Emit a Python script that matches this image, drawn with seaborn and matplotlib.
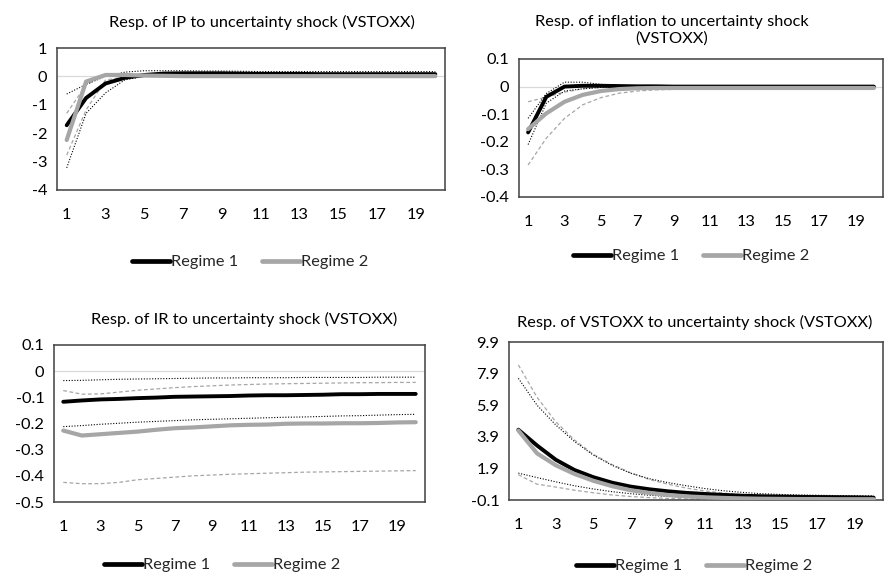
import numpy as np
import pandas as pd
import matplotlib
matplotlib.use("Agg")
import matplotlib.pyplot as plt
import seaborn as sns
from matplotlib.lines import Line2D

sns.set_theme(style="white")
plt.rcParams['font.family'] = ['Lato', 'DejaVu Sans']

horizon = list(range(1, 21))
xtick_labels = [str(v) for v in range(1, 21, 2)]

# ---- Panel 1: IP ----
ip_r1 = [-1.72, -0.76, -0.25, -0.05, 0.05, 0.10, 0.11, 0.11, 0.11, 0.10,
         0.09, 0.09, 0.09, 0.08, 0.08, 0.08, 0.08, 0.08, 0.08, 0.08]
ip_r2 = [-2.24, -0.18, 0.05, 0.05, 0.03, 0.02, 0.01, 0.01, 0.01, 0.01,
         0.01, 0.01, 0.01, 0.01, 0.01, 0.01, 0.01, 0.01, 0.01, 0.01]
ip_r1_up = [-0.62, -0.28, 0.00, 0.15, 0.20, 0.20, 0.20, 0.19, 0.19, 0.18,
            0.17, 0.17, 0.17, 0.17, 0.17, 0.17, 0.17, 0.17, 0.17, 0.17]
ip_r1_lo = [-3.22, -1.30, -0.58, -0.12, 0.00, 0.03, 0.04, 0.04, 0.04, 0.03,
            0.03, 0.03, 0.03, 0.03, 0.03, 0.03, 0.03, 0.03, 0.03, 0.03]
ip_r2_up = [-1.30, -0.30, 0.06, 0.08, 0.06, 0.05, 0.04, 0.04, 0.04, 0.04,
            0.04, 0.04, 0.04, 0.04, 0.04, 0.04, 0.04, 0.04, 0.04, 0.04]
ip_r2_lo = [-2.77, -1.18, -0.13, -0.02, 0.00, -0.01, -0.02, -0.02, -0.02, -0.02,
            -0.02, -0.02, -0.02, -0.02, -0.02, -0.02, -0.02, -0.02, -0.02, -0.02]
ip_yticks = [1, 0, -1, -2, -3, -4]

# ---- Panel 2: inflation ----
inf_r1 = [-0.166, -0.037, 0.000, 0.003, 0.003, 0.002, 0.001, 0.001, 0.000, 0.000,
          0.000, 0.000, 0.000, 0.000, 0.000, 0.000, 0.000, 0.000, 0.000, 0.000]
inf_r2 = [-0.154, -0.097, -0.055, -0.030, -0.016, -0.009, -0.006, -0.005, -0.005, -0.005,
          -0.005, -0.005, -0.005, -0.005, -0.005, -0.005, -0.005, -0.005, -0.005, -0.005]
inf_r1_up = [-0.115, -0.025, 0.016, 0.016, 0.008, 0.004, 0.003, 0.002, 0.002, 0.002,
             0.002, 0.002, 0.001, 0.001, 0.001, 0.001, 0.001, 0.001, 0.001, 0.001]
inf_r1_lo = [-0.210, -0.060, -0.016, -0.008, -0.003, -0.002, -0.001, -0.001, 0.000, 0.000,
             0.000, 0.000, 0.000, 0.000, 0.000, 0.000, 0.000, 0.000, 0.000, 0.000]
inf_r2_up = [-0.055, -0.038, -0.020, -0.008, -0.003, -0.001, 0.000, 0.000, 0.000, 0.000,
             0.000, 0.000, 0.000, 0.000, 0.000, 0.000, 0.000, 0.000, 0.000, 0.000]
inf_r2_lo = [-0.284, -0.187, -0.115, -0.066, -0.040, -0.024, -0.016, -0.012, -0.010, -0.010,
             -0.010, -0.010, -0.010, -0.010, -0.010, -0.010, -0.010, -0.010, -0.010, -0.010]
inf_yticks = [0.1, 0, -0.1, -0.2, -0.3, -0.4]
inf_ylabels = ["0.1", "0", "-0.1", "-0.2", "-0.3", "-0.4"]

# ---- Panel 3: IR ----
ir_r1 = [-0.117, -0.112, -0.108, -0.106, -0.103, -0.101, -0.098, -0.097, -0.096, -0.095,
         -0.093, -0.092, -0.092, -0.091, -0.090, -0.088, -0.088, -0.087, -0.087, -0.087]
ir_r2 = [-0.227, -0.246, -0.241, -0.236, -0.231, -0.224, -0.218, -0.215, -0.211, -0.207,
         -0.205, -0.204, -0.201, -0.200, -0.200, -0.199, -0.199, -0.198, -0.196, -0.195]
ir_r1_up = [-0.036, -0.035, -0.033, -0.031, -0.030, -0.029, -0.028, -0.027, -0.026, -0.026,
            -0.025, -0.025, -0.025, -0.024, -0.024, -0.024, -0.024, -0.023, -0.023, -0.023]
ir_r1_lo = [-0.212, -0.208, -0.203, -0.199, -0.195, -0.192, -0.189, -0.186, -0.184, -0.182,
            -0.180, -0.178, -0.176, -0.175, -0.173, -0.171, -0.170, -0.168, -0.166, -0.165]
ir_r2_up = [-0.074, -0.088, -0.087, -0.080, -0.073, -0.068, -0.063, -0.059, -0.056, -0.053,
            -0.051, -0.049, -0.048, -0.047, -0.046, -0.045, -0.044, -0.044, -0.043, -0.043]
ir_r2_lo = [-0.425, -0.430, -0.430, -0.425, -0.415, -0.410, -0.405, -0.400, -0.397, -0.394,
            -0.392, -0.390, -0.388, -0.386, -0.385, -0.384, -0.383, -0.382, -0.381, -0.380]
ir_yticks = [0.1, 0, -0.1, -0.2, -0.3, -0.4, -0.5]
ir_ylabels = ["0.1", "0", "-0.1", "-0.2", "-0.3", "-0.4", "-0.5"]

# ---- Panel 4: VSTOXX ----
vs_r1 = [4.35, 3.35, 2.45, 1.80, 1.35, 1.00, 0.75, 0.58, 0.45, 0.35,
         0.28, 0.22, 0.17, 0.14, 0.12, 0.10, 0.09, 0.08, 0.07, 0.05]
vs_r2 = [4.30, 2.85, 2.10, 1.55, 1.12, 0.78, 0.52, 0.35, 0.22, 0.13,
         0.07, 0.03, 0.00, -0.02, -0.03, -0.04, -0.04, -0.05, -0.05, -0.05]
vs_r1_up = [7.60, 5.90, 4.65, 3.60, 2.75, 2.10, 1.60, 1.25, 1.00, 0.80,
            0.62, 0.48, 0.38, 0.30, 0.25, 0.22, 0.20, 0.18, 0.17, 0.16]
vs_r1_lo = [1.60, 1.32, 1.05, 0.80, 0.60, 0.43, 0.30, 0.20, 0.12, 0.07,
            0.04, 0.02, 0.01, 0.00, 0.00, 0.00, -0.01, -0.01, -0.01, -0.01]
vs_r2_up = [8.45, 6.40, 4.85, 3.70, 2.80, 2.15, 1.62, 1.20, 0.90, 0.65,
            0.47, 0.33, 0.23, 0.16, 0.11, 0.08, 0.06, 0.05, 0.04, 0.04]
vs_r2_lo = [1.50, 0.90, 0.72, 0.52, 0.36, 0.22, 0.12, 0.05, 0.00, -0.03,
            -0.05, -0.06, -0.07, -0.07, -0.08, -0.08, -0.08, -0.08, -0.08, -0.08]
vs_yticks = [9.9, 7.9, 5.9, 3.9, 1.9, -0.1]
vs_ylabels = ["9.9", "7.9", "5.9", "3.9", "1.9", "-0.1"]

titles = ["Resp. of IP to uncertainty shock (VSTOXX)",
          "Resp. of inflation to uncertainty shock\n(VSTOXX)",
          "Resp. of IR to uncertainty shock (VSTOXX)",
          "Resp. of VSTOXX to uncertainty shock (VSTOXX)"]
series_names = ["Regime 1", "Regime 2"]

BLACK = "#000000"
GRAY = "#a6a6a6"
FS = 11.8

fig = plt.figure(figsize=(8.84, 5.78), dpi=100)

W, H = 884, 578
def ax_rect(l, r, t, b):
    return [l / W, 1 - b / H, (r - l) / W, (b - t) / H]

panels = [
    dict(rect=ax_rect(57, 445, 48, 190), data=(ip_r1, ip_r2, ip_r1_up, ip_r1_lo, ip_r2_up, ip_r2_lo),
         yticks=ip_yticks, ylabels=[str(v) for v in ip_yticks], ylim=(-4, 1),
         title_xy=(262, 22), legend_xy=(250, 262), zero=True),
    dict(rect=ax_rect(519, 883, 59, 197), data=(inf_r1, inf_r2, inf_r1_up, inf_r1_lo, inf_r2_up, inf_r2_lo),
         yticks=inf_yticks, ylabels=inf_ylabels, ylim=(-0.4, 0.1),
         title_xy=(672, 30), legend_xy=(691, 256), zero=True),
    dict(rect=ax_rect(54, 425, 345, 502), data=(ir_r1, ir_r2, ir_r1_up, ir_r1_lo, ir_r2_up, ir_r2_lo),
         yticks=ir_yticks, ylabels=ir_ylabels, ylim=(-0.5, 0.1),
         title_xy=(244, 319), legend_xy=(222, 565), zero=True),
    dict(rect=ax_rect(509, 883, 342, 500), data=(vs_r1, vs_r2, vs_r1_up, vs_r1_lo, vs_r2_up, vs_r2_lo),
         yticks=vs_yticks, ylabels=vs_ylabels, ylim=(-0.1, 9.9),
         title_xy=(695, 322), legend_xy=(694, 566), zero=False),
]

for i, p in enumerate(panels):
    ax = fig.add_axes(p["rect"])
    r1, r2, r1u, r1l, r2u, r2l = p["data"]
    if p["zero"]:
        ax.axhline(0, color="#d9d9d9", lw=0.9, zorder=1)
    sns.lineplot(x=horizon, y=r2u, ax=ax, color=GRAY, lw=0.9, linestyle=(0, (3, 2)), zorder=2)
    sns.lineplot(x=horizon, y=r2l, ax=ax, color=GRAY, lw=0.9, linestyle=(0, (3, 2)), zorder=2)
    sns.lineplot(x=horizon, y=r1u, ax=ax, color=BLACK, lw=0.8, linestyle=(0, (1, 1.5)), zorder=2)
    sns.lineplot(x=horizon, y=r1l, ax=ax, color=BLACK, lw=0.8, linestyle=(0, (1, 1.5)), zorder=2)
    sns.lineplot(x=horizon, y=r1, ax=ax, color=BLACK, lw=2.8, zorder=3,
                 solid_capstyle="round", solid_joinstyle="round")
    sns.lineplot(x=horizon, y=r2, ax=ax, color=GRAY, lw=3.0, zorder=4,
                 solid_capstyle="round", solid_joinstyle="round")
    ax.set_xlim(0.5, 20.5)
    ax.set_ylim(*p["ylim"])
    ax.set_xticks(range(1, 21, 2))
    ax.set_xticklabels(xtick_labels)
    ax.set_yticks(p["yticks"])
    ax.set_yticklabels(p["ylabels"])
    ax.tick_params(axis="y", length=0, pad=7, labelsize=FS, labelcolor="#000000")
    ax.tick_params(axis="x", length=0, pad=13, labelsize=FS, labelcolor="#000000")
    ax.set_xlabel("")
    ax.set_ylabel("")
    for s in ax.spines.values():
        s.set_visible(True)
        s.set_color("#404040")
        s.set_linewidth(1.1)
    ax.grid(False)
    tx, ty = p["title_xy"]
    fig.text(tx / W, 1 - ty / H, titles[i], ha="center", va="center", fontsize=FS,
             color="#000000", linespacing=1.2)
    lx, ly = p["legend_xy"]
    handles = [Line2D([0], [0], color=BLACK, lw=3.4), Line2D([0], [0], color=GRAY, lw=3.4)]
    ax.legend(handles, series_names, loc="center", bbox_to_anchor=(lx / W, 1 - ly / H),
              bbox_transform=fig.transFigure, ncol=2, frameon=False, fontsize=FS,
              handlelength=2.3, handletextpad=0.05, columnspacing=1.5)

fig.savefig("out.png", dpi=100, facecolor="white")
